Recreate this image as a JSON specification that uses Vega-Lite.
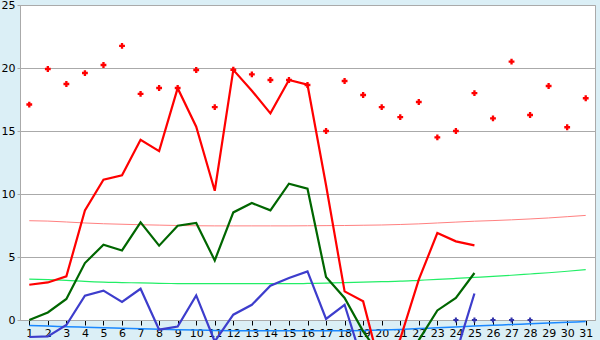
{
  "$schema": "https://vega.github.io/schema/vega-lite/v6.json",
  "width": 575,
  "height": 315,
  "autosize": "none",
  "padding": {"left": 20, "top": 5, "right": 5, "bottom": 20},
  "background": "#dbeff6",
  "config": {
    "view": {"fill": "white", "stroke": "#aaaaaa"},
    "font": "DejaVu Sans",
    "axis": {"labelFont": "DejaVu Sans", "labelFontSize": 11, "labelColor": "#000000", "title": null, "grid": false}
  },
  "data": {
    "values": [
      {"d": 1, "pt": 17.1, "r": 2.8, "g": 0.0, "b": -1.35, "tr": 7.88, "tg": 3.25, "tb": -0.43, "bp": null},
      {"d": 2, "pt": 19.92, "r": 2.98, "g": 0.6, "b": -1.3, "tr": 7.85, "tg": 3.2, "tb": -0.48, "bp": null},
      {"d": 3, "pt": 18.73, "r": 3.46, "g": 1.67, "b": -0.4, "tr": 7.78, "tg": 3.15, "tb": -0.53, "bp": null},
      {"d": 4, "pt": 19.6, "r": 8.7, "g": 4.52, "b": 1.93, "tr": 7.7, "tg": 3.06, "tb": -0.57, "bp": null},
      {"d": 5, "pt": 20.24, "r": 11.13, "g": 5.97, "b": 2.33, "tr": 7.64, "tg": 3.0, "tb": -0.62, "bp": null},
      {"d": 6, "pt": 21.75, "r": 11.48, "g": 5.52, "b": 1.43, "tr": 7.6, "tg": 2.97, "tb": -0.66, "bp": null},
      {"d": 7, "pt": 17.94, "r": 14.3, "g": 7.75, "b": 2.48, "tr": 7.56, "tg": 2.94, "tb": -0.7, "bp": null},
      {"d": 8, "pt": 18.41, "r": 13.4, "g": 5.9, "b": -0.77, "tr": 7.53, "tg": 2.91, "tb": -0.74, "bp": null},
      {"d": 9, "pt": 18.41, "r": 18.4, "g": 7.48, "b": -0.52, "tr": 7.5, "tg": 2.89, "tb": -0.77, "bp": null},
      {"d": 10, "pt": 19.84, "r": 15.34, "g": 7.7, "b": 1.95, "tr": 7.48, "tg": 2.88, "tb": -0.8, "bp": null},
      {"d": 11, "pt": 16.9, "r": 10.26, "g": 4.73, "b": -1.7, "tr": 7.47, "tg": 2.88, "tb": -0.83, "bp": null},
      {"d": 12, "pt": 19.86, "r": 19.85, "g": 8.54, "b": 0.42, "tr": 7.47, "tg": 2.88, "tb": -0.85, "bp": null},
      {"d": 13, "pt": 19.5, "r": 18.2, "g": 9.28, "b": 1.21, "tr": 7.47, "tg": 2.88, "tb": -0.86, "bp": null},
      {"d": 14, "pt": 19.05, "r": 16.4, "g": 8.7, "b": 2.72, "tr": 7.47, "tg": 2.88, "tb": -0.86, "bp": null},
      {"d": 15, "pt": 19.05, "r": 19.05, "g": 10.82, "b": 3.33, "tr": 7.47, "tg": 2.88, "tb": -0.86, "bp": null},
      {"d": 16, "pt": 18.65, "r": 18.67, "g": 10.42, "b": 3.86, "tr": 7.48, "tg": 2.9, "tb": -0.86, "bp": null},
      {"d": 17, "pt": 15.0, "r": 10.7, "g": 3.41, "b": 0.08, "tr": 7.49, "tg": 2.93, "tb": -0.86, "bp": null},
      {"d": 18, "pt": 18.97, "r": 2.27, "g": 1.75, "b": 1.21, "tr": 7.5, "tg": 2.96, "tb": -0.85, "bp": null},
      {"d": 19, "pt": 17.86, "r": 1.48, "g": -0.9, "b": -3.5, "tr": 7.52, "tg": 3.0, "tb": -0.83, "bp": null},
      {"d": 20, "pt": 16.9, "r": -4.2, "g": -3.0, "b": -4.0, "tr": 7.54, "tg": 3.04, "tb": -0.8, "bp": null},
      {"d": 21, "pt": 16.1, "r": -1.5, "g": -3.5, "b": -4.0, "tr": 7.58, "tg": 3.08, "tb": -0.75, "bp": null},
      {"d": 22, "pt": 17.3, "r": 3.2, "g": -1.6, "b": -4.0, "tr": 7.63, "tg": 3.15, "tb": -0.68, "bp": null},
      {"d": 23, "pt": 14.5, "r": 6.9, "g": 0.76, "b": -4.0, "tr": 7.7, "tg": 3.22, "tb": -0.62, "bp": null},
      {"d": 24, "pt": 15.0, "r": 6.24, "g": 1.75, "b": -2.7, "tr": 7.77, "tg": 3.3, "tb": -0.55, "bp": 0},
      {"d": 25, "pt": 18.0, "r": 5.92, "g": 3.73, "b": 2.1, "tr": 7.84, "tg": 3.38, "tb": -0.48, "bp": 0},
      {"d": 26, "pt": 16.0, "r": null, "g": null, "b": null, "tr": 7.89, "tg": 3.46, "tb": -0.42, "bp": 0},
      {"d": 27, "pt": 20.5, "r": null, "g": null, "b": null, "tr": 7.95, "tg": 3.55, "tb": -0.36, "bp": 0},
      {"d": 28, "pt": 16.27, "r": null, "g": null, "b": null, "tr": 8.02, "tg": 3.65, "tb": -0.3, "bp": 0},
      {"d": 29, "pt": 18.57, "r": null, "g": null, "b": null, "tr": 8.1, "tg": 3.75, "tb": -0.24, "bp": null},
      {"d": 30, "pt": 15.3, "r": null, "g": null, "b": null, "tr": 8.2, "tg": 3.87, "tb": -0.18, "bp": null},
      {"d": 31, "pt": 17.6, "r": null, "g": null, "b": null, "tr": 8.3, "tg": 4.0, "tb": -0.12, "bp": null}
    ]
  },
  "encoding": {
    "x": {
      "field": "d", "type": "quantitative",
      "scale": {"domain": [0.5, 31.5], "nice": false, "zero": false},
      "axis": {
        "values": [1,2,3,4,5,6,7,8,9,10,11,12,13,14,15,16,17,18,19,20,21,22,23,24,25,26,27,28,29,30,31],
        "format": "d", "domainColor": "#aaaaaa", "tickColor": "#000000", "tickSize": 5,
        "labelPadding": 2, "labelOverlap": false, "labelFlush": false
      }
    }
  },
  "layer": [
    {
      "mark": {"type": "line", "color": "#ff8080", "strokeWidth": 1, "interpolate": "monotone"},
      "encoding": {"y": {"field": "tr", "type": "quantitative",
        "scale": {"domain": [0, 25], "nice": false},
        "axis": {"values": [0, 5, 10, 15, 20, 25], "grid": true, "gridColor": "#aaaaaa", "gridOpacity": 1,
          "domainColor": "#aaaaaa", "tickColor": "#aaaaaa", "tickSize": 3, "labelPadding": 2}}}
    },
    {
      "mark": {"type": "line", "color": "#22ee66", "strokeWidth": 1.2, "interpolate": "monotone"},
      "encoding": {"y": {"field": "tg", "type": "quantitative"}}
    },
    {
      "mark": {"type": "line", "color": "#1a88ff", "strokeWidth": 1.5, "interpolate": "monotone"},
      "encoding": {"y": {"field": "tb", "type": "quantitative"}}
    },
    {
      "mark": {"type": "line", "color": "#3d3dcc", "strokeWidth": 2.2},
      "encoding": {"y": {"field": "b", "type": "quantitative"}}
    },
    {
      "mark": {"type": "line", "color": "#006600", "strokeWidth": 2.2},
      "encoding": {"y": {"field": "g", "type": "quantitative"}}
    },
    {
      "mark": {"type": "line", "color": "#ff0000", "strokeWidth": 2.2},
      "encoding": {"y": {"field": "r", "type": "quantitative"}}
    },
    {
      "mark": {"type": "point", "shape": "cross", "filled": true, "color": "#ff0000", "size": 34, "opacity": 1},
      "encoding": {"y": {"field": "pt", "type": "quantitative"}}
    },
    {
      "mark": {"type": "point", "shape": "cross", "filled": true, "color": "#3333aa", "size": 26, "opacity": 1},
      "encoding": {"y": {"field": "bp", "type": "quantitative"}}
    }
  ]
}
